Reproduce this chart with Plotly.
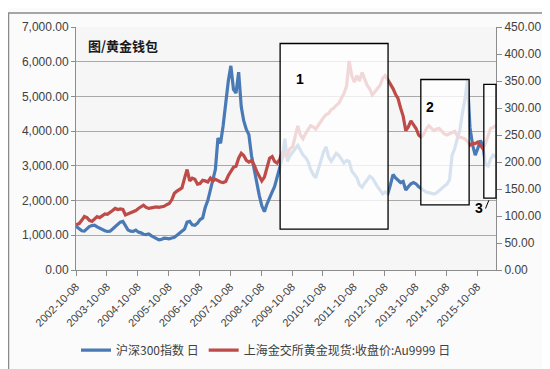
import plotly.graph_objects as go

# ---------------- data (monthly readings from the chart) ----------------
csi300 = [
    # 2002 Oct-Dec
    1260, 1200, 1130,
    # 2003
    1120, 1180, 1250, 1280, 1290, 1240, 1200, 1160, 1130, 1110, 1120, 1180,
    # 2004
    1250, 1320, 1380, 1400, 1280, 1150, 1120, 1110, 1150, 1090, 1070, 1030,
    # 2005
    1020, 1040, 990, 950, 890, 870, 880, 920, 910, 900, 920, 940,
    # 2006
    1000, 1060, 1100, 1180, 1380, 1400, 1300, 1290, 1350, 1450, 1500, 1800,
    # 2007
    2000, 2300, 2550, 2900, 3800, 3650, 4150, 4900, 5450, 5880, 5200, 5100,
    # 2008
    5700, 4700, 4300, 4050, 3900, 3300, 2900, 2450, 2150, 1850, 1680, 1900,
    # 2009
    2050, 2250, 2400, 2660, 2950, 3220, 3780, 3130, 3300, 3400, 3500, 3590,
    # 2010
    3450, 3310, 3250, 3130, 2900, 2750, 2660, 2950, 3150, 3400, 3550, 3250,
    # 2011
    3130, 3250, 3360, 3300, 3200, 3080, 3150, 3130, 2850, 2750, 2660, 2450,
    # 2012
    2380, 2500, 2600, 2700, 2650, 2500, 2400, 2300, 2190, 2250, 2200, 2450,
    # 2013
    2750, 2650, 2600, 2520, 2550, 2300, 2400, 2480, 2520, 2480, 2400, 2350,
    # 2014
    2300, 2240, 2230, 2200, 2190, 2220, 2290, 2350, 2420, 2470, 2600, 3300,
    # 2015
    3500, 3780, 4000, 4500, 4900, 5460, 4100, 3600, 3310, 3500, 3730, 3600,
    # 2016 Jan-May
    3030, 3000, 3200, 3310, 3250,
]

gold_au9999 = [
    # 2002 Oct-Dec
    84, 86, 92,
    # 2003
    99, 97, 92, 90, 94, 99, 97, 100, 104, 103, 106, 110,
    # 2004
    114, 112, 113, 112, 102, 104, 106, 108, 110, 114, 118, 120,
    # 2005
    116, 114, 115, 116, 117, 116, 117, 118, 121, 123, 130, 142,
    # 2006
    146, 150, 152, 170, 186, 165, 170, 168, 159, 160, 166, 165,
    # 2007
    163, 170, 165, 168, 165, 163, 162, 164, 175, 183, 190, 192,
    # 2008
    207, 216, 212, 203, 200, 203, 195, 183, 175, 165, 172, 190,
    # 2009
    207, 210, 201, 198, 205, 219, 212, 215, 225, 228, 250, 267,
    # 2010
    250, 243, 252, 260, 267, 265, 261, 268, 276, 282, 288, 290,
    # 2011
    297, 300, 305, 309, 318, 327, 340, 387, 360, 348, 360, 350,
    # 2012
    366, 355, 342, 335, 324, 330, 335, 342, 355, 360, 352, 345,
    # 2013
    336, 325, 318, 300, 285, 258, 265, 276, 270, 262, 250, 246,
    # 2014
    252, 262, 267, 262, 258, 261, 262, 257, 252, 250, 252, 255,
    # 2015
    257, 249, 246, 245, 243, 238, 231, 235, 234, 237, 231, 225,
    # 2016 Jan-May
    235, 250, 262, 264, 268,
]

months = [(2002, m) for m in (10, 11, 12)]
months += [(y, m) for y in range(2003, 2016) for m in range(1, 13)]
months += [(2016, m) for m in range(1, 6)]
dates = [f"{y}-{m:02d}-15" for y, m in months]
dates[0] = "2002-10-08"
dates[-1] = "2016-05-18"
assert len(dates) == len(csi300) == len(gold_au9999)

tick_years = list(range(2002, 2016))
tick_vals = [f"{y}-10-08" for y in tick_years]
tick_text = [f"{y}-10-08" for y in tick_years]

left_ticks = list(range(0, 7001, 1000))
right_ticks = list(range(0, 451, 50))

series_names = ["沪深300指数 日", "上海金交所黄金现货:收盘价:Au9999 日"]
title_text = "图/黄金钱包"

# ---------------- figure ----------------
BLUE = "#4a7ab5"
RED = "#be4b48"
AXIS = "#8c8c8c"
TXT = "#404040"
CJK = "Noto Sans CJK SC"
LAT = "Liberation Sans"

fig = go.Figure()
fig.add_trace(go.Scatter(x=dates, y=csi300, mode="lines", name=series_names[0],
                         line=dict(color=BLUE, width=3.2), yaxis="y"))
fig.add_trace(go.Scatter(x=dates, y=gold_au9999, mode="lines", name=series_names[1],
                         line=dict(color=RED, width=3.2), yaxis="y2"))

fig.update_layout(
    width=550, height=369,
    margin=dict(l=68, r=62, t=15, b=104),
    paper_bgcolor="#fbfbfb",
    plot_bgcolor="#f6f6f6",
    font=dict(family=LAT, size=12, color=TXT),
    xaxis=dict(
        type="date", range=["2002-10-08", "2016-05-18"],
        tickmode="array", tickvals=tick_vals, ticktext=tick_text,
        tickangle=-45, tickfont=dict(family=LAT, size=11, color=TXT),
        showgrid=False, showline=True, linecolor=AXIS, linewidth=1,
        ticks="outside", ticklen=5, tickcolor=AXIS, zeroline=False,
    ),
    yaxis=dict(
        range=[0, 7000], tickmode="array", tickvals=left_ticks,
        tickformat=",.2f", tickfont=dict(family=LAT, size=12, color=TXT),
        showgrid=True, gridcolor="#a9a9a9", gridwidth=1,
        showline=True, linecolor=AXIS, ticks="outside", ticklen=4,
        tickcolor=AXIS, zeroline=False,
    ),
    yaxis2=dict(
        range=[0, 450], tickmode="array", tickvals=right_ticks,
        tickformat=",.2f", tickfont=dict(family=LAT, size=12, color=TXT),
        overlaying="y", side="right", showgrid=False,
        showline=True, linecolor=AXIS, ticks="outside", ticklen=5,
        tickcolor=AXIS, zeroline=False,
    ),
    legend=dict(
        orientation="h", x=0.0, xanchor="left", y=-0.33, yanchor="middle",
        font=dict(family=CJK, size=12, color=TXT),
        bgcolor="rgba(0,0,0,0)", itemwidth=30, tracegroupgap=0,
    ),
    showlegend=True,
)

# translucent boxes (fade lines beneath) + black outline
boxes = [
    (0.486, 0.743, 0.168, 0.932),
    (0.821, 0.936, 0.268, 0.784),
    (0.971, 1.000, 0.296, 0.764),
]
for x0, x1, y0, y1 in boxes:
    fig.add_shape(type="rect", xref="paper", yref="paper", x0=x0, x1=x1, y0=y0, y1=y1,
                  fillcolor="rgba(255,255,255,0.78)", line=dict(color="black", width=1.3),
                  layer="above")

# leader line for "3"
fig.add_shape(type="line", xref="paper", yref="paper", x0=0.983, y0=0.287, x1=0.975, y1=0.253,
              line=dict(color="black", width=1), layer="above")

# chart outer border
fig.add_shape(type="rect", xref="paper", yref="paper",
              x0=-0.1607, x1=1.1464, y0=-0.414, y1=1.058,
              line=dict(color="#8a8a8a", width=1.5), fillcolor="rgba(0,0,0,0)", layer="above")

labels = [("1", 0.533, 0.828), ("2", 0.857, 0.712), ("3", 0.974, 0.212)]
for t, x, y in labels:
    fig.add_annotation(text=f"<b>{t}</b>", xref="paper", yref="paper", x=x, y=y,
                       showarrow=False, font=dict(family=LAT, size=14, color="black"))

fig.add_annotation(text=f"<b>{title_text}</b>", xref="paper", yref="paper",
                   x=0.024, y=0.924, xanchor="left", yanchor="middle", showarrow=False,
                   font=dict(family=CJK, size=13, color="#1a1a1a"))

fig.write_html("out.html")
